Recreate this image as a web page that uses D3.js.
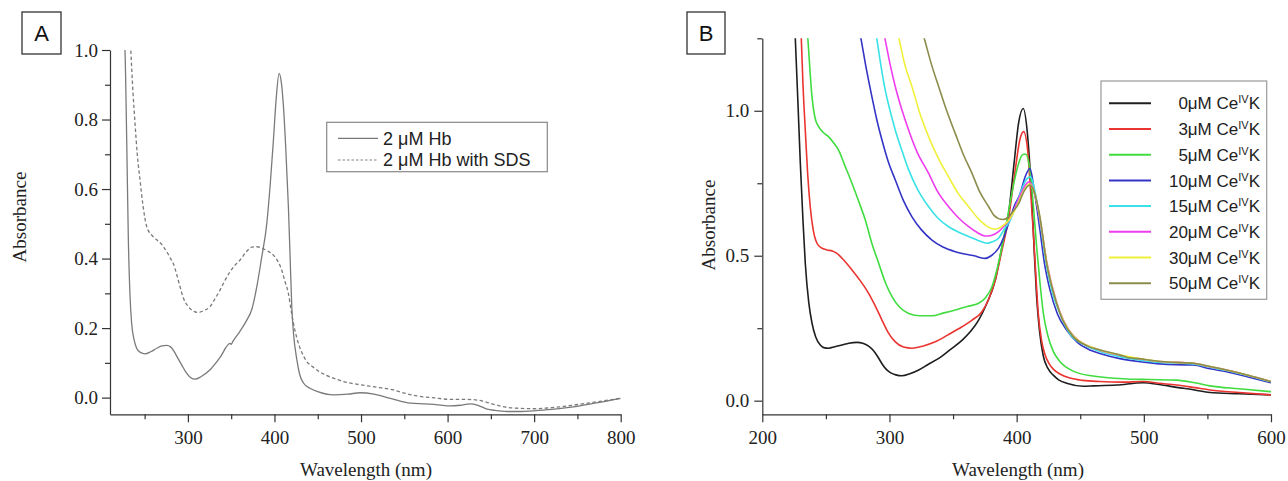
<!DOCTYPE html>
<html><head><meta charset="utf-8">
<script src="https://cdn.jsdelivr.net/npm/d3@7"></script>
<style>body{margin:0;background:#fff} svg{display:block}</style>
</head><body><svg id="c" width="1288" height="481"></svg>
<script>
// ---------- Panel A data: [wavelength nm, absorbance] ----------
const hbA = [[226.5,1.03],[227.3,1.0],[229.3,0.741],[231.2,0.454],[233,0.3],[235,0.214],[238,0.165],[240.8,0.142],[245,0.13],[250.5,0.126],[257,0.132],[264,0.142],[270,0.149],[275.5,0.15],[280,0.146],[284,0.133],[288,0.115],[292.8,0.094],[298,0.072],[303,0.058],[308.3,0.053],[315,0.06],[325.6,0.08],[337,0.115],[348.7,0.156],[350,0.153],[352,0.162],[360,0.19],[368,0.223],[374,0.255],[379.6,0.319],[385,0.4],[391.2,0.502],[395,0.61],[398.8,0.741],[402,0.86],[405.4,0.933],[408,0.905],[410.4,0.837],[413,0.72],[416.1,0.549],[418,0.41],[420,0.262],[422,0.185],[425.8,0.11],[429,0.068],[433.5,0.042],[441,0.027],[450,0.017],[468,0.008],[485,0.01],[499,0.014],[515,0.01],[534,-0.002],[557,-0.016],[575,-0.018],[590,-0.021],[603,-0.024],[615,-0.022],[626,-0.018],[635,-0.022],[645.5,-0.033],[655,-0.037],[668.6,-0.04],[685,-0.04],[699,-0.038],[720,-0.034],[738,-0.029],[770,-0.016],[800,-0.002]];
const hbSdsA = [[233,1.05],[234,1.0],[236.5,0.88],[238.9,0.789],[241.5,0.7],[244.7,0.626],[248,0.555],[252.4,0.492],[258,0.468],[264,0.454],[270,0.44],[275.5,0.42],[280,0.4],[283.2,0.385],[287,0.355],[290.9,0.319],[295,0.285],[300.5,0.262],[306,0.249],[312.1,0.245],[318,0.25],[325.6,0.262],[331,0.283],[337.2,0.31],[343,0.338],[348.7,0.362],[354,0.38],[360.3,0.396],[367,0.418],[373.8,0.433],[380,0.434],[385.4,0.43],[392,0.422],[398.8,0.41],[404,0.392],[408.4,0.367],[412,0.335],[416.1,0.3],[419,0.255],[421.9,0.214],[426,0.17],[431.6,0.13],[437,0.105],[445,0.087],[455,0.07],[468,0.056],[480,0.046],[499,0.037],[518,0.03],[537.5,0.022],[550,0.013],[564.5,0.005],[585,-0.001],[603,-0.005],[620,-0.005],[634,-0.007],[650,-0.017],[668.6,-0.028],[685,-0.031],[699,-0.032],[720,-0.029],[738,-0.024],[770,-0.013],[800,-0.002]];
const legendA = ["2 \u03BCM Hb", "2 \u03BCM Hb with SDS"];
const xMajorA = [300,400,500,600,700,800];
const xMinorA = [250,350,450,550,650,750];
const yMajorA = [0,0.2,0.4,0.6,0.8,1.0];
const yMinorA = [0.1,0.3,0.5,0.7,0.9];

// ---------- Panel B data ----------
const ce0 = [[224,1.45],[226,1.244],[228,1.03],[229.9,0.819],[232,0.62],[233.8,0.474],[236.5,0.34],[239.1,0.267],[242,0.22],[245.6,0.192],[249,0.182],[252.2,0.181],[257,0.186],[262.7,0.192],[268,0.198],[274.5,0.201],[279,0.198],[283.6,0.188],[287.5,0.172],[291,0.15],[294.5,0.125],[297.5,0.108],[301,0.096],[305,0.089],[309.8,0.086],[316,0.093],[323,0.106],[330,0.124],[338.7,0.146],[348,0.177],[357.2,0.209],[364,0.24],[370.1,0.278],[376,0.33],[383.2,0.416],[388,0.52],[393.7,0.646],[398,0.82],[401.6,0.96],[405.2,1.008],[408.5,0.92],[411.8,0.703],[414,0.5],[415.7,0.359],[418,0.24],[420.9,0.155],[424.5,0.112],[428.8,0.088],[433,0.072],[439.3,0.06],[452.4,0.05],[460.2,0.051],[478.6,0.054],[499.5,0.062],[512,0.056],[525.8,0.046],[540,0.037],[552,0.028],[575,0.024],[600,0.02]];
const ce3 = [[228.5,1.47],[230.7,1.244],[232,1.09],[233.8,0.933],[235.7,0.78],[237.7,0.669],[240,0.59],[243,0.543],[246.5,0.527],[250.9,0.52],[255,0.516],[258.7,0.508],[264,0.485],[270.5,0.451],[277,0.414],[283.6,0.37],[289,0.325],[294.1,0.278],[299,0.235],[304.6,0.203],[311,0.185],[317.7,0.181],[326,0.188],[336,0.203],[346,0.227],[357,0.255],[365,0.278],[372.7,0.307],[378,0.35],[383.2,0.416],[388,0.51],[393.7,0.63],[399,0.8],[402.5,0.9],[405.5,0.928],[408.5,0.87],[411,0.72],[413,0.589],[415,0.44],[417,0.301],[419.5,0.21],[422.2,0.16],[425.5,0.128],[429,0.108],[434,0.092],[441.9,0.078],[452,0.07],[465.5,0.066],[482,0.064],[499.5,0.066],[512,0.06],[525.8,0.054],[540,0.045],[552,0.037],[575,0.028],[600,0.02]];
const ce5 = [[232,1.48],[235.9,1.244],[239.1,1.048],[241.5,0.975],[244.3,0.945],[248,0.925],[252.2,0.91],[256,0.89],[260,0.864],[265,0.81],[270.5,0.75],[276,0.685],[281,0.623],[286,0.545],[291.5,0.474],[297,0.405],[302,0.359],[308,0.322],[315.1,0.301],[324,0.293],[333.4,0.293],[342,0.302],[351.7,0.313],[361,0.325],[370.1,0.336],[375.5,0.355],[380.6,0.393],[386,0.48],[391,0.589],[396,0.71],[401.6,0.819],[404.5,0.848],[407,0.851],[410,0.81],[413,0.68],[415.7,0.531],[418.5,0.4],[421,0.301],[424.5,0.225],[428.8,0.17],[434,0.135],[444.5,0.102],[460,0.085],[486.5,0.075],[505,0.073],[525.8,0.071],[540,0.062],[552,0.051],[575,0.041],[600,0.031]];
const ce10 = [[270,1.43],[277.8,1.244],[282,1.14],[286.2,1.048],[290,0.97],[294.1,0.899],[299,0.825],[304.6,0.761],[311,0.69],[317.7,0.634],[325,0.59],[333.4,0.554],[342,0.53],[351.7,0.514],[360,0.505],[367.5,0.499],[371,0.494],[375.3,0.491],[380,0.5],[385.8,0.526],[390,0.565],[393.7,0.612],[398,0.67],[402.8,0.715],[406.5,0.77],[410.5,0.801],[414,0.72],[418.3,0.589],[422,0.47],[426.2,0.382],[432,0.3],[439.3,0.244],[448,0.2],[457.6,0.175],[465.5,0.163],[481.2,0.145],[500,0.133],[512.7,0.127],[525,0.124],[538.8,0.123],[552,0.11],[565,0.1],[582,0.082],[600,0.062]];
const ce15 = [[282,1.46],[290.2,1.244],[293.5,1.15],[296.7,1.071],[300.5,1.0],[304.6,0.933],[310,0.86],[315.1,0.796],[322,0.73],[330.8,0.669],[338,0.63],[346.5,0.6],[354,0.582],[362.3,0.566],[370,0.552],[376.6,0.543],[381,0.548],[385.8,0.56],[390,0.59],[395,0.623],[400,0.68],[405,0.74],[408,0.765],[411,0.772],[414,0.73],[418.3,0.62],[423,0.48],[428,0.375],[434,0.3],[442,0.23],[452,0.195],[465.5,0.17],[481,0.152],[500,0.138],[512.7,0.132],[525,0.13],[538.8,0.127],[552,0.115],[565,0.104],[582,0.086],[600,0.065]];
const ce20 = [[288,1.42],[296.7,1.244],[300.5,1.16],[304.6,1.083],[310,1.0],[315.1,0.933],[322,0.855],[330.8,0.784],[338,0.72],[346.5,0.669],[354,0.632],[362.3,0.6],[369,0.58],[375.3,0.568],[380,0.57],[385.8,0.583],[390,0.602],[395,0.629],[400,0.68],[404,0.72],[407,0.745],[410,0.755],[413,0.73],[418.3,0.625],[423.6,0.48],[431.4,0.34],[444.5,0.225],[465.5,0.174],[481,0.157],[500,0.142],[512.7,0.135],[525,0.132],[538.8,0.129],[552,0.117],[565,0.106],[582,0.088],[600,0.066]];
const ce30 = [[298,1.40],[307.7,1.244],[312,1.16],[317.7,1.083],[324,0.99],[330.8,0.91],[338,0.84],[346.5,0.772],[354,0.715],[362.3,0.669],[369,0.632],[375.3,0.606],[380,0.594],[384,0.592],[388,0.6],[394,0.623],[400,0.67],[404,0.71],[407,0.735],[410,0.747],[413,0.73],[418.3,0.63],[423.6,0.478],[431.4,0.338],[444.5,0.224],[465.5,0.175],[481,0.158],[500,0.143],[512.7,0.135],[525,0.132],[538.8,0.129],[552,0.118],[565,0.106],[582,0.088],[600,0.066]];
const ce50 = [[318,1.39],[327.7,1.244],[333,1.16],[338.7,1.083],[345,1.0],[351.7,0.922],[358,0.85],[364.9,0.784],[371,0.72],[378,0.669],[382,0.64],[385.8,0.628],[389,0.625],[393.7,0.634],[397.5,0.655],[401.6,0.68],[405,0.715],[408,0.737],[410.5,0.744],[413,0.73],[418.3,0.634],[423.6,0.474],[431.4,0.336],[436,0.28],[444.5,0.221],[455,0.19],[465.5,0.175],[481,0.158],[486.5,0.15],[500,0.143],[512.7,0.135],[525,0.132],[538.8,0.129],[552,0.118],[565,0.106],[582,0.088],[600,0.066]];
const seriesB = [ce0, ce3, ce5, ce10, ce15, ce20, ce30, ce50];
const concB = ["0", "3", "5", "10", "15", "20", "30", "50"];
const colorsB = ["#1e1e1e","#ea3430","#40dc40","#3434c6","#38e2e6","#ee3cee","#f0f03a","#8c8c4c"];
const xMajorB = [200,300,400,500,600];
const xMinorB = [250,350,450,550];
const yMajorB = [0,0.5,1.0];
const yMinorB = [0.25,0.75,1.25];

const svg = d3.select('#c');
svg.append('rect').attr('width',1288).attr('height',481).attr('fill','#fff');
const serif = '"Liberation Serif","Times New Roman",serif';
const sans = '"Liberation Sans",Arial,sans-serif';

function drawAxes(g, x, y, xMaj, xMin, yMaj, yMin, fmt, ypad) {
  const axes = g.append('g').attr('class', 'axes');
  axes.append('g').attr('transform', `translate(0,${y.range()[0]})`)
    .call(d3.axisBottom(x).tickValues(xMaj).tickSize(8).tickSizeOuter(0).tickPadding(8).tickFormat(d3.format('d')));
  axes.append('g').attr('transform', `translate(0,${y.range()[0]})`)
    .call(d3.axisBottom(x).tickValues(xMin).tickSize(5).tickSizeOuter(0).tickFormat(''))
    .call(s => s.select('.domain').remove());
  axes.append('g').attr('transform', `translate(${x.range()[0]},0)`)
    .call(d3.axisLeft(y).tickValues(yMaj).tickSize(8).tickSizeOuter(0).tickPadding(ypad).tickFormat(fmt));
  axes.append('g').attr('transform', `translate(${x.range()[0]},0)`)
    .call(d3.axisLeft(y).tickValues(yMin).tickSize(5).tickSizeOuter(0).tickFormat(''))
    .call(s => s.select('.domain').remove());
  axes.selectAll('g').attr('font-family', serif).attr('font-size', 19);
  axes.selectAll('.domain, .tick line').attr('stroke', '#333').attr('stroke-width', 1.2);
  axes.selectAll('.tick text').style('font-family', serif).style('font-size', '19px').attr('fill', '#222');
}

function letterBox(x0, y0, w, h, t) {
  svg.append('rect').attr('x', x0).attr('y', y0).attr('width', w).attr('height', h)
    .attr('fill', '#fff').attr('stroke', '#222').attr('stroke-width', 1.2);
  svg.append('text').attr('x', x0 + w/2).attr('y', y0 + h/2).attr('dy', '0.36em')
    .attr('text-anchor', 'middle').attr('font-family', sans).attr('font-size', 22).attr('fill', '#111').text(t);
}

// ---------- Panel A ----------
{
  const x = d3.scaleLinear().domain([210, 800]).range([110, 620.7]);
  const y = d3.scaleLinear().domain([-0.048, 1.0]).range([414.3, 50]);
  const g = svg.append('g');
  svg.append('clipPath').attr('id', 'clipA').append('rect')
    .attr('x', 110).attr('y', 50).attr('width', 510.7).attr('height', 364.3);
  const line = d3.line().x(d => x(d[0])).y(d => y(d[1])).curve(d3.curveMonotoneX);
  const lg = g.append('g').attr('clip-path', 'url(#clipA)');
  lg.append('path').attr('d', line(hbSdsA)).attr('fill', 'none').attr('stroke', '#7a7a7a')
    .attr('stroke-width', 1.3).attr('stroke-dasharray', '3.5,2.5');
  lg.append('path').attr('d', line(hbA)).attr('fill', 'none').attr('stroke', '#7a7a7a').attr('stroke-width', 1.3);
  drawAxes(g, x, y, xMajorA, xMinorA, yMajorA, yMinorA, d3.format('.1f'), 4);
  g.append('text').attr('x', 366).attr('y', 476).attr('text-anchor', 'middle')
    .attr('font-family', serif).attr('font-size', 19).attr('fill', '#222').text('Wavelength (nm)');
  g.append('text').attr('transform', 'translate(25.5,217) rotate(-90)').attr('text-anchor', 'middle')
    .attr('font-family', serif).attr('font-size', 19).attr('fill', '#222').text('Absorbance');
  // legend
  g.append('rect').attr('x', 326.7).attr('y', 122.3).attr('width', 220.6).attr('height', 49.4)
    .attr('fill', '#fff').attr('stroke', '#888').attr('stroke-width', 1.2);
  legendA.forEach((t, i) => {
    const yy = 138.3 + i * 21.7;
    g.append('line').attr('x1', 338).attr('x2', 378).attr('y1', yy).attr('y2', yy)
      .attr('stroke', i ? '#aaa' : '#777').attr('stroke-width', 1.3)
      .attr('stroke-dasharray', i ? '2.5,2' : null);
    g.append('text').attr('x', 383).attr('y', yy).attr('dy', '0.35em').attr('font-family', sans)
      .attr('font-size', 18).attr('fill', '#222').text(t);
  });
  letterBox(22, 12, 39, 42, 'A');
}

// ---------- Panel B ----------
{
  const x = d3.scaleLinear().domain([200, 600]).range([762.3, 1271]);
  const y = d3.scaleLinear().domain([-0.047, 1.25]).range([414.3, 38.3]);
  const g = svg.append('g');
  svg.append('clipPath').attr('id', 'clipB').append('rect')
    .attr('x', 762.3).attr('y', 38.3).attr('width', 508.7).attr('height', 376);
  const line = d3.line().x(d => x(d[0])).y(d => y(d[1])).curve(d3.curveMonotoneX);
  const lg = g.append('g').attr('clip-path', 'url(#clipB)');
  seriesB.forEach((s, i) => {
    lg.append('path').attr('d', line(s)).attr('fill', 'none').attr('stroke', colorsB[i]).attr('stroke-width', 1.6);
  });
  drawAxes(g, x, y, xMajorB, xMinorB, yMajorB, yMinorB, d3.format('.1f'), 5);
  g.append('text').attr('x', 1018).attr('y', 476).attr('text-anchor', 'middle')
    .attr('font-family', serif).attr('font-size', 19).attr('fill', '#222').text('Wavelength (nm)');
  g.append('text').attr('transform', 'translate(715,225) rotate(-90)').attr('text-anchor', 'middle')
    .attr('font-family', serif).attr('font-size', 19).attr('fill', '#222').text('Absorbance');
  // legend
  g.append('rect').attr('x', 1101).attr('y', 81).attr('width', 165.7).attr('height', 218.3)
    .attr('fill', '#fff').attr('stroke', '#999').attr('stroke-width', 1.2);
  concB.forEach((c, i) => {
    const yy = 103.3 + i * 25.7;
    g.append('line').attr('x1', 1109).attr('x2', 1151).attr('y1', yy).attr('y2', yy)
      .attr('stroke', colorsB[i]).attr('stroke-width', 2);
    const t = g.append('text').attr('x', 1260).attr('y', yy).attr('dy', '0.36em').attr('text-anchor', 'end')
      .attr('font-family', sans).attr('font-size', 17).attr('fill', '#222');
    t.append('tspan').text(c + '\u03BCM Ce');
    t.append('tspan').attr('font-size', 11).attr('dy', -6).text('IV');
    t.append('tspan').attr('dy', 6).text('K');
  });
  letterBox(687, 12, 38, 42, 'B');
}
</script></body></html>
